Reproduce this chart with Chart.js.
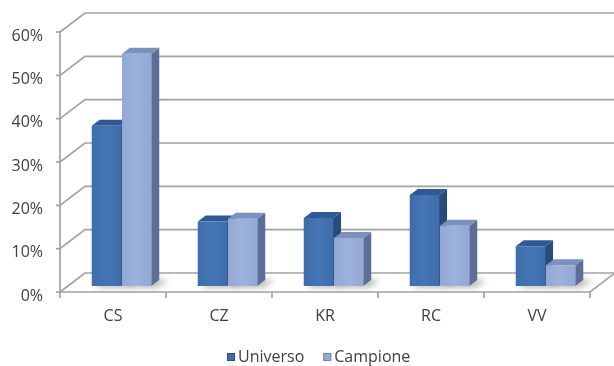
<!DOCTYPE html>
<html>
<head>
<meta charset="utf-8">
<script src="https://cdn.jsdelivr.net/npm/chart.js@4.4.1/dist/chart.umd.min.js"></script>
<style>
  html, body { margin: 0; padding: 0; background: #ffffff; }
  #wrap { width: 614px; height: 366px; }
</style>
</head>
<body>
<div id="wrap"><canvas id="c" width="614" height="366"></canvas></div>
<script>
// Quote per area: universo vs campione
const categories = ['CS', 'CZ', 'KR', 'RC', 'VV'];
const universo = [0.37, 0.149, 0.157, 0.21, 0.092];
const campione = [0.536, 0.155, 0.111, 0.139, 0.048];
const seriesNames = ['Universo', 'Campione'];
const yMin = 0, yMax = 0.6, yStep = 0.1;

// Face colours for each series: front, top, side
const faces = [
  { front: '#3d6daa', frontHi: '#4575b3', top: '#2d5a96', side: '#284b7e', border: '#2a5088' },
  { front: '#93a9d5', frontHi: '#9cb1db', top: '#7a91bf', side: '#5d6f98', border: '#6f86b3' }
];

// Oblique projection: back wall offset and bar depth
const WALL = { dx: 25, dy: -19 };
const BAR_POS = { dx: 8.5, dy: -6 };
const BAR_DEPTH = { dx: 8, dy: -6 };
const GRID = '#a2a2a2';
const TEXT = '#404040';
const FONT = "'Open Sans', 'DejaVu Sans', sans-serif";

function line(ctx, pts) {
  ctx.beginPath();
  ctx.moveTo(pts[0][0], pts[0][1]);
  for (let i = 1; i < pts.length; i++) ctx.lineTo(pts[i][0], pts[i][1]);
  ctx.stroke();
}
function poly(ctx, pts, fill) {
  ctx.beginPath();
  ctx.moveTo(pts[0][0], pts[0][1]);
  for (let i = 1; i < pts.length; i++) ctx.lineTo(pts[i][0], pts[i][1]);
  ctx.closePath();
  ctx.fillStyle = fill;
  ctx.fill();
}

const chart3d = {
  id: 'chart3d',
  beforeDatasetsDraw(chart) {
    const ctx = chart.ctx;
    const { left, right, top, bottom } = chart.chartArea;
    const ys = chart.scales.y;
    ctx.save();
    ctx.lineWidth = 1.7;
    ctx.strokeStyle = GRID;
    ctx.lineCap = 'butt';

    // back wall gridlines and side-wall diagonals
    ys.ticks.forEach(t => {
      const y = ys.getPixelForValue(t.value);
      line(ctx, [[left, y], [left + WALL.dx, y + WALL.dy], [right + WALL.dx, y + WALL.dy]]);
      line(ctx, [[left - 4, y], [left, y]]);
    });
    // floor front edge and right diagonal, left axis line
    line(ctx, [[left, bottom], [right, bottom], [right + WALL.dx, bottom + WALL.dy]]);
    line(ctx, [[left, top], [left, bottom]]);
    // category separators on the floor edge
    const n = categories.length;
    const cw = (right - left) / n;
    for (let i = 0; i <= n; i++) {
      const x = left + i * cw;
      line(ctx, [[x, bottom], [x, bottom + 6]]);
    }

    // collect bar boxes from the library's elements
    const boxes = [];
    for (let i = 0; i < n; i++) {
      chart.data.datasets.forEach((ds, d) => {
        const el = chart.getDatasetMeta(d).data[i];
        const p = el.getProps(['x', 'y', 'base', 'width'], true);
        const x0 = p.x - p.width / 2 + BAR_POS.dx;
        const x1 = p.x + p.width / 2 + BAR_POS.dx;
        const yt = p.y + BAR_POS.dy;
        const yb = p.base + BAR_POS.dy;
        boxes.push({ d, x0, x1, yt, yb });
      });
    }

    // soft shadow cast onto the floor
    ctx.save();
    ctx.filter = 'blur(3px)';
    boxes.forEach(b => {
      poly(ctx, [
        [b.x0 + 3, b.yb + 1], [b.x1 + 6, b.yb + 1],
        [b.x1 + BAR_DEPTH.dx + 9, b.yb + BAR_DEPTH.dy], [b.x0 + BAR_DEPTH.dx + 3, b.yb + BAR_DEPTH.dy]
      ], 'rgba(0,0,0,0.32)');
    });
    ctx.restore();

    // bars as boxes: side, top, front
    boxes.forEach(b => {
      const f = faces[b.d];
      const { dx, dy } = BAR_DEPTH;
      poly(ctx, [[b.x1, b.yt], [b.x1 + dx, b.yt + dy], [b.x1 + dx, b.yb + dy], [b.x1, b.yb]], f.side);
      poly(ctx, [[b.x0, b.yt], [b.x0 + dx, b.yt + dy], [b.x1 + dx, b.yt + dy], [b.x1, b.yt]], f.top);
      const g = ctx.createLinearGradient(b.x0, 0, b.x1, 0);
      g.addColorStop(0, f.front);
      g.addColorStop(0.5, f.frontHi);
      g.addColorStop(1, f.front);
      poly(ctx, [[b.x0, b.yt], [b.x1, b.yt], [b.x1, b.yb], [b.x0, b.yb]], g);
    });
    ctx.restore();
    return false;
  },
  afterDraw(chart) {
    // legend below the plot
    const ctx = chart.ctx;
    ctx.save();
    ctx.font = '16px ' + FONT;
    ctx.textBaseline = 'middle';
    ctx.textAlign = 'left';
    let x = 227;
    const y = 357;
    seriesNames.forEach((name, d) => {
      ctx.fillStyle = faces[d].front;
      ctx.fillRect(x, y - 4, 8, 8);
      ctx.strokeStyle = faces[d].border;
      ctx.lineWidth = 1;
      ctx.strokeRect(x + 0.5, y - 3.5, 7, 7);
      ctx.fillStyle = TEXT;
      ctx.fillText(name, x + 11, y);
      x += 11 + ctx.measureText(name).width + 19;
    });
    ctx.restore();
  }
};

new Chart(document.getElementById('c'), {
  type: 'bar',
  data: {
    labels: categories,
    datasets: [
      { label: seriesNames[0], data: universo, backgroundColor: faces[0].front },
      { label: seriesNames[1], data: campione, backgroundColor: faces[1].front }
    ]
  },
  options: {
    responsive: false,
    animation: false,
    devicePixelRatio: 1,
    layout: { padding: { top: 32, right: 24, bottom: 34, left: 0 } },
    datasets: { bar: { categoryPercentage: 0.57, barPercentage: 0.97 } },
    plugins: { legend: { display: false }, tooltip: { enabled: false } },
    scales: {
      x: {
        grid: { display: false },
        border: { display: false },
        ticks: { color: TEXT, font: { family: FONT, size: 16 }, padding: 7, maxRotation: 0 },
        afterFit(s) { s.height = 40; }
      },
      y: {
        min: yMin,
        max: yMax,
        grid: { display: false },
        border: { display: false },
        ticks: {
          stepSize: yStep,
          color: TEXT,
          font: { family: FONT, size: 16 },
          padding: 9,
          labelOffset: 4,
          callback: v => Math.round(v * 100) + '%'
        },
        afterFit(s) { s.width = 60; }
      }
    }
  },
  plugins: [chart3d]
});
</script>
</body>
</html>
